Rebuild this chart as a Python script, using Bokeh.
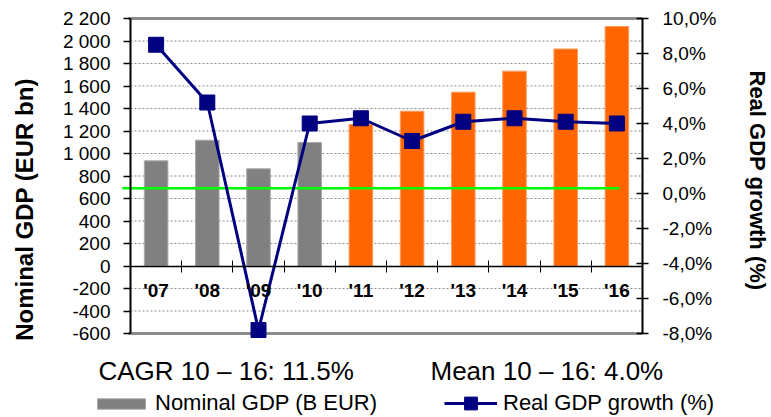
import math

from bokeh.embed import file_html
from bokeh.models import (ColumnDataSource, CustomJSTickFormatter, FixedTicker, Grid,
                          Label, Legend, LegendItem, LinearAxis, Range1d)
from bokeh.plotting import figure
from bokeh.resources import INLINE

# ---- data -------------------------------------------------------------
years = ["'07", "'08", "'09", "'10", "'11", "'12", "'13", "'14", "'15", "'16"]
nominal_gdp = [935, 1118, 864, 1098, 1258, 1376, 1545, 1732, 1929, 2129]   # B EUR
real_growth = [8.5, 5.2, -7.8, 4.0, 4.3, 3.0, 4.1, 4.3, 4.1, 4.0]           # %
is_forecast = [False, False, False, False, True, True, True, True, True, True]

nominal_ticks = [-600, -400, -200, 0, 200, 400, 600, 800, 1000, 1200,
                 1400, 1600, 1800, 2000, 2200]
growth_ticks = [-8, -6, -4, -2, 0, 2, 4, 6, 8, 10]
growth_reference = 0.3

cagr_text = "CAGR 10 \u2013 16: 11.5%"
mean_text = "Mean 10 \u2013 16: 4.0%"
bar_legend = "Nominal GDP (B EUR)"
line_legend = "Real GDP growth (%)"
left_title = "Nominal GDP (EUR bn)"
right_title = "Real GDP growth (%)"

# ---- layout -----------------------------------------------------------
W, H = 771, 417
PLOT_L, PLOT_R, PLOT_T, PLOT_B = 130, 642, 18, 333   # plotting box in pixels

FONT = "Liberation Sans"
GREY, GREY_EDGE = "#808080", "#a8a8a8"
ORANGE, ORANGE_EDGE = "#ff6600", "#ff9a5c"
NAVY = "#000080"
BORDER = "#8c8c8c"


def padded(lo, hi, px_lo, px_hi, px_total):
    """Extend [lo, hi] (drawn between px_lo..px_hi) to cover 0..px_total pixels."""
    per_px = (hi - lo) / (px_hi - px_lo)
    return Range1d(lo - px_lo * per_px, hi + (px_total - px_hi) * per_px)


n = len(years)
centers = [i + 0.5 for i in range(n)]
boundaries = [float(i) for i in range(1, n)]
y_lo, y_hi = nominal_ticks[0], nominal_ticks[-1]
g_lo, g_hi = growth_ticks[0], growth_ticks[-1]

p = figure(width=W, height=H, output_backend="svg", toolbar_location=None,
           x_range=padded(0, n, PLOT_L, PLOT_R, W),
           y_range=padded(y_lo, y_hi, H - PLOT_B, H - PLOT_T, H),
           x_axis_location=None, y_axis_location=None, min_border=0,
           background_fill_color="white", border_fill_color="white",
           outline_line_color=None)
p.extra_y_ranges = {"growth": padded(g_lo, g_hi, H - PLOT_B, H - PLOT_T, H)}
p.center = [r for r in p.center if not isinstance(r, Grid)]

# dotted horizontal grid on the nominal ticks
grid_levels = [t for t in nominal_ticks if t not in (y_lo, 0, y_hi)]
p.segment(x0=[0] * len(grid_levels), x1=[n] * len(grid_levels),
          y0=grid_levels, y1=grid_levels,
          line_color="#8a8a8a", line_dash="2 2", line_width=1)

# bars
src = ColumnDataSource(dict(
    x=centers,
    top=nominal_gdp,
    fill=[ORANGE if f else GREY for f in is_forecast],
    edge=[ORANGE_EDGE if f else GREY_EDGE for f in is_forecast],
))
bars = p.vbar(x="x", top="top", bottom=0, width=0.46, fill_color="fill",
              line_color="edge", line_width=1, source=src)

# top and bottom frame lines
p.segment(x0=[-0.04, -0.04], x1=[n, n], y0=[y_hi, y_lo], y1=[y_hi, y_lo],
          line_color=BORDER, line_width=3)

# growth reference line
p.segment(x0=-0.16, y0=growth_reference, x1=centers[-1] + 0.05, y1=growth_reference,
          y_range_name="growth", line_color="#00ff00", line_width=2.5)

# growth line with square markers
gline = p.line(x=centers, y=real_growth, y_range_name="growth",
               line_color=NAVY, line_width=3)
gmark = p.scatter(x=centers, y=real_growth, y_range_name="growth", marker="square",
                  size=15, fill_color=NAVY, line_color=NAVY)

# left axis: nominal GDP with space thousands separator
left_fmt = CustomJSTickFormatter(code="""
    const s = Math.abs(tick).toFixed(0).replace(/\\B(?=(\\d{3})+(?!\\d))/g, ' ');
    return (tick < 0 ? '-' : '') + s;
""")
yl = LinearAxis(ticker=FixedTicker(ticks=nominal_ticks), formatter=left_fmt,
                fixed_location=0, bounds=(y_lo, y_hi),
                major_tick_out=7, major_tick_in=0, minor_tick_out=0, minor_tick_in=0,
                axis_line_width=2, major_tick_line_width=1.5,
                major_label_standoff=13, major_label_text_font=FONT,
                major_label_text_font_size="19px", major_label_text_color="black")
p.add_layout(yl, "left")

# right axis: real growth with decimal comma
right_fmt = CustomJSTickFormatter(code="return tick.toFixed(1).replace('.', ',') + '%';")
yr = LinearAxis(y_range_name="growth", ticker=FixedTicker(ticks=growth_ticks),
                formatter=right_fmt, fixed_location=n, bounds=(g_lo, g_hi),
                major_tick_out=6, major_tick_in=6, minor_tick_out=0, minor_tick_in=0,
                axis_line_width=2, major_tick_line_width=1.5,
                major_label_standoff=14, major_label_text_font=FONT,
                major_label_text_font_size="19px", major_label_text_color="black")
p.add_layout(yr, "right")

# category axis sitting on the zero line, ticks between categories
x_fmt = CustomJSTickFormatter(args=dict(labels=years),
                              code="return labels[Math.floor(tick)];")
xb = LinearAxis(ticker=FixedTicker(ticks=centers, minor_ticks=boundaries),
                formatter=x_fmt, fixed_location=0, bounds=(0, n),
                major_tick_out=0, major_tick_in=0, major_tick_line_color=None,
                minor_tick_out=6, minor_tick_in=6, minor_tick_line_width=1,
                axis_line_width=1.5, major_label_standoff=8,
                major_label_text_font=FONT, major_label_text_font_style="bold",
                major_label_text_font_size="19px", major_label_text_color="black")
p.add_layout(xb, "below")

# axis titles (screen units measured from the bottom-left corner)
p.add_layout(Label(x=24, y=H - 209, x_units="screen", y_units="screen", text=left_title,
                   angle=math.pi / 2, text_align="center", text_baseline="middle",
                   text_font=FONT, text_font_size="24px", text_font_style="bold",
                   text_color="black"))
p.add_layout(Label(x=757, y=H - 180, x_units="screen", y_units="screen", text=right_title,
                   angle=-math.pi / 2, text_align="center", text_baseline="middle",
                   text_font=FONT, text_font_size="22px", text_font_style="bold",
                   text_color="black"))

# summary statistics under the chart
for tx, txt in ((98, cagr_text), (430, mean_text)):
    p.add_layout(Label(x=tx, y=H - 370, x_units="screen", y_units="screen", text=txt,
                       text_align="left", text_baseline="middle",
                       text_font=FONT, text_font_size="26px", text_color="black"))

# legends
common = dict(padding=0, margin=0, border_line_color=None, background_fill_alpha=0,
              label_text_font=FONT, label_text_font_size="22px",
              label_text_color="black", orientation="horizontal")
leg1 = Legend(items=[LegendItem(label=bar_legend, renderers=[bars], index=0)],
              location=(91, H - 416), glyph_width=60, glyph_height=13,
              label_standoff=4, label_height=26, **common)
leg2 = Legend(items=[LegendItem(label=line_legend, renderers=[gline, gmark])],
              location=(444, H - 419), glyph_width=53, glyph_height=32,
              label_standoff=6, label_height=26, **common)
p.add_layout(leg1)
p.add_layout(leg2)

open("out.html", "w").write(file_html(p, INLINE))
